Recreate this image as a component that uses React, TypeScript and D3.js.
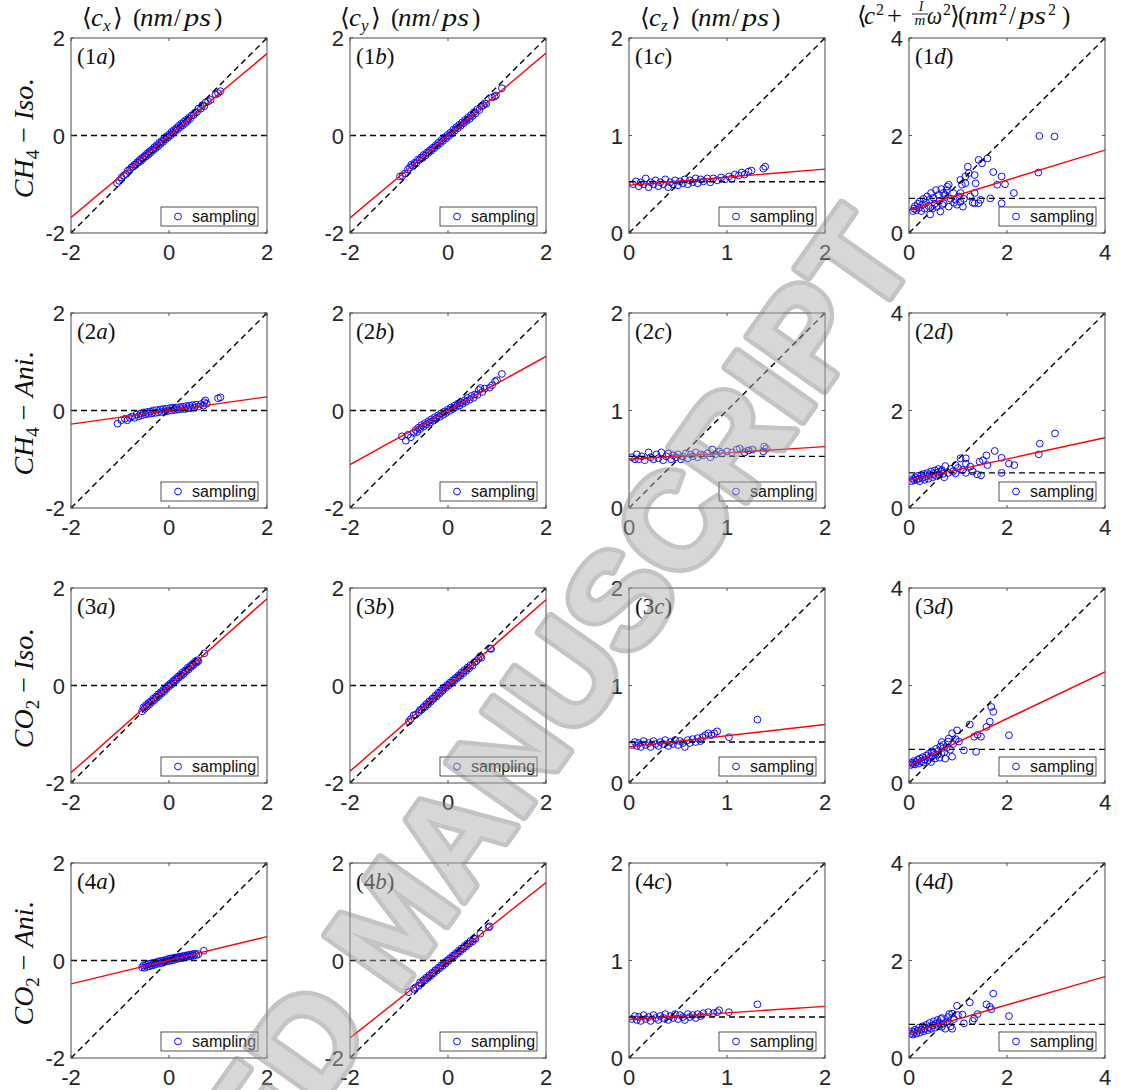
import React from "react";
import * as d3 from "d3";

// ---------------- data ----------------
const colDomains: number[][] = [[-2, 2], [-2, 2], [0, 2], [0, 4]];
const colTicks: number[][] = [[-2, 0, 2], [-2, 0, 2], [0, 1, 2], [0, 2, 4]];
const colTags = ["a", "b", "c", "d"];
const rowMolecule = ["H", "H", "O", "O"];
const rowSub = ["4", "4", "2", "2"];
const rowKind = ["Iso", "Ani", "Iso", "Ani"];
const legendLabel = "sampling";
const titleSubs = ["x", "y", "z"];

// fitted red line: y at left and right end of x-domain
const fitRow1 = [[-1.68, 1.68], [-1.69, 1.69], [0.49, 0.655], [0.47, 1.7]];
const fitRow2 = [[-0.28, 0.28], [-1.11, 1.11], [0.5, 0.63], [0.57, 1.44]];
const fitRow3 = [[-1.79, 1.78], [-1.76, 1.76], [0.37, 0.6], [0.36, 2.28]];
const fitRow4 = [[-0.48, 0.49], [-1.59, 1.6], [0.395, 0.53], [0.51, 1.67]];
// horizontal dashed (mean) level
const meanRow1 = [0, 0, 0.525, 0.71];
const meanRow2 = [0, 0, 0.53, 0.72];
const meanRow3 = [0, 0, 0.42, 0.69];
const meanRow4 = [0, 0, 0.42, 0.69];

const s1a = [[-1.06,-0.98],[-1.02,-0.93],[-0.97,-0.86],[-0.92,-0.82],[-0.88,-0.79],[-0.84,-0.72],[-0.8,-0.7],[-0.77,-0.66],[-0.74,-0.64],[-0.71,-0.6],[-0.68,-0.6],[-0.65,-0.55],[-0.62,-0.55],[-0.6,-0.5],[-0.57,-0.52],[-0.55,-0.46],[-0.52,-0.47],[-0.5,-0.42],[-0.47,-0.43],[-0.45,-0.37],[-0.42,-0.39],[-0.4,-0.33],[-0.37,-0.35],[-0.35,-0.29],[-0.32,-0.3],[-0.3,-0.24],[-0.27,-0.26],[-0.25,-0.2],[-0.22,-0.22],[-0.2,-0.15],[-0.17,-0.17],[-0.15,-0.11],[-0.12,-0.13],[-0.1,-0.06],[-0.07,-0.08],[-0.05,-0.02],[-0.02,-0.04],[0.0,0.02],[0.03,0.0],[0.05,0.07],[0.08,0.05],[0.1,0.11],[0.13,0.09],[0.15,0.15],[0.18,0.13],[0.2,0.2],[0.23,0.17],[0.25,0.24],[0.28,0.21],[0.3,0.28],[0.33,0.25],[0.35,0.32],[0.38,0.3],[0.4,0.36],[0.43,0.34],[0.46,0.41],[0.5,0.42],[0.53,0.47],[0.57,0.48],[0.6,0.55],[0.65,0.55],[0.68,0.62],[0.72,0.6],[0.75,0.68],[0.8,0.7],[0.85,0.73],[0.95,0.84],[1.0,0.87],[1.05,0.91]];
const s1b = [[-0.98,-0.84],[-0.93,-0.83],[-0.88,-0.78],[-0.82,-0.7],[-0.78,-0.66],[-0.75,-0.6],[-0.72,-0.62],[-0.68,-0.56],[-0.65,-0.57],[-0.62,-0.5],[-0.58,-0.5],[-0.55,-0.45],[-0.52,-0.46],[-0.5,-0.4],[-0.46,-0.41],[-0.43,-0.35],[-0.4,-0.36],[-0.37,-0.3],[-0.34,-0.31],[-0.31,-0.25],[-0.28,-0.26],[-0.25,-0.2],[-0.22,-0.21],[-0.19,-0.14],[-0.16,-0.16],[-0.13,-0.09],[-0.1,-0.11],[-0.07,-0.04],[-0.04,-0.06],[-0.01,0.01],[0.02,-0.01],[0.05,0.06],[0.08,0.04],[0.11,0.12],[0.14,0.1],[0.17,0.17],[0.2,0.15],[0.23,0.22],[0.26,0.2],[0.29,0.27],[0.32,0.25],[0.35,0.32],[0.38,0.3],[0.41,0.37],[0.44,0.34],[0.47,0.42],[0.5,0.4],[0.53,0.48],[0.56,0.45],[0.6,0.54],[0.64,0.52],[0.68,0.6],[0.72,0.62],[0.75,0.66],[0.78,0.65],[0.9,0.78],[0.95,0.8],[0.98,0.82],[1.1,0.97]];
const s1c = [[0.04,0.5],[0.07,0.53],[0.1,0.48],[0.12,0.52],[0.15,0.5],[0.17,0.56],[0.2,0.47],[0.22,0.52],[0.25,0.5],[0.27,0.54],[0.3,0.48],[0.32,0.52],[0.35,0.5],[0.37,0.55],[0.4,0.47],[0.42,0.52],[0.45,0.5],[0.47,0.54],[0.5,0.49],[0.52,0.53],[0.55,0.51],[0.57,0.55],[0.6,0.5],[0.62,0.54],[0.65,0.52],[0.68,0.56],[0.7,0.51],[0.73,0.55],[0.76,0.53],[0.8,0.56],[0.83,0.52],[0.86,0.56],[0.9,0.54],[0.94,0.57],[0.98,0.55],[1.02,0.58],[1.05,0.56],[1.08,0.6],[1.12,0.59],[1.15,0.62],[1.18,0.6],[1.22,0.63],[1.25,0.64],[1.37,0.66],[1.39,0.68]];
const s1d = [[0.08,0.45],[0.1,0.5],[0.12,0.55],[0.15,0.47],[0.18,0.6],[0.2,0.52],[0.22,0.65],[0.25,0.45],[0.27,0.58],[0.3,0.7],[0.32,0.5],[0.35,0.62],[0.37,0.75],[0.4,0.55],[0.42,0.68],[0.43,0.38],[0.45,0.82],[0.48,0.5],[0.5,0.72],[0.53,0.6],[0.55,0.88],[0.57,0.54],[0.6,0.78],[0.62,0.66],[0.64,0.44],[0.66,0.9],[0.68,0.58],[0.7,0.82],[0.71,0.61],[0.74,0.78],[0.77,0.88],[0.78,0.95],[0.81,0.99],[0.81,0.54],[0.85,0.7],[0.9,0.82],[0.92,0.62],[0.95,0.68],[0.98,0.58],[1.02,0.75],[1.05,1.09],[1.05,0.82],[1.05,0.64],[1.08,0.99],[1.1,0.54],[1.12,0.7],[1.15,1.16],[1.15,1.02],[1.2,1.36],[1.22,1.23],[1.25,0.75],[1.3,0.62],[1.34,1.19],[1.36,1.02],[1.34,0.82],[1.34,0.61],[1.42,0.61],[1.42,1.5],[1.46,0.68],[1.49,1.43],[1.6,1.53],[1.66,0.71],[1.72,1.25],[1.8,0.99],[1.89,1.16],[1.89,0.61],[1.96,1.0],[2.14,0.82],[2.64,1.24],[2.66,1.99],[2.97,1.98]];
const s2a = [[-1.05,-0.27],[-0.97,-0.2],[-0.9,-0.17],[-0.85,-0.2],[-0.8,-0.15],[-0.75,-0.12],[-0.7,-0.15],[-0.66,-0.08],[-0.62,-0.12],[-0.58,-0.06],[-0.55,-0.1],[-0.52,-0.04],[-0.48,-0.08],[-0.45,-0.03],[-0.42,-0.07],[-0.38,-0.02],[-0.35,-0.06],[-0.32,0.0],[-0.28,-0.05],[-0.25,0.01],[-0.22,-0.04],[-0.18,0.02],[-0.15,-0.03],[-0.12,0.03],[-0.08,-0.02],[-0.05,0.04],[-0.02,-0.01],[0.02,0.05],[0.05,0.0],[0.08,0.06],[0.12,0.01],[0.15,0.06],[0.18,0.02],[0.22,0.07],[0.25,0.03],[0.28,0.08],[0.32,0.03],[0.35,0.09],[0.38,0.04],[0.42,0.1],[0.45,0.05],[0.48,0.11],[0.52,0.06],[0.55,0.12],[0.6,0.08],[0.65,0.13],[0.7,0.1],[0.72,0.17],[0.74,0.21],[0.77,0.14],[1.0,0.25],[1.05,0.27]];
const s2b = [[-0.94,-0.53],[-0.86,-0.62],[-0.82,-0.5],[-0.76,-0.55],[-0.7,-0.46],[-0.66,-0.4],[-0.63,-0.44],[-0.6,-0.35],[-0.57,-0.38],[-0.54,-0.3],[-0.5,-0.33],[-0.47,-0.26],[-0.44,-0.29],[-0.4,-0.22],[-0.37,-0.25],[-0.34,-0.18],[-0.3,-0.21],[-0.27,-0.14],[-0.24,-0.17],[-0.2,-0.1],[-0.17,-0.13],[-0.14,-0.06],[-0.1,-0.09],[-0.07,-0.02],[-0.04,-0.05],[0.0,0.02],[0.03,-0.01],[0.06,0.06],[0.1,0.03],[0.13,0.1],[0.16,0.07],[0.2,0.14],[0.23,0.1],[0.27,0.17],[0.3,0.14],[0.34,0.21],[0.37,0.18],[0.4,0.26],[0.44,0.22],[0.48,0.3],[0.52,0.26],[0.55,0.33],[0.6,0.32],[0.63,0.42],[0.66,0.46],[0.7,0.38],[0.75,0.45],[0.85,0.47],[0.9,0.52],[0.96,0.6],[1.0,0.62],[1.1,0.75]];
const s2c = [[0.03,0.52],[0.06,0.5],[0.08,0.55],[0.1,0.5],[0.13,0.53],[0.16,0.49],[0.2,0.57],[0.22,0.52],[0.25,0.5],[0.28,0.55],[0.3,0.51],[0.33,0.57],[0.35,0.49],[0.38,0.53],[0.4,0.56],[0.43,0.5],[0.45,0.54],[0.48,0.52],[0.5,0.55],[0.53,0.5],[0.55,0.53],[0.58,0.56],[0.6,0.51],[0.63,0.55],[0.65,0.53],[0.68,0.57],[0.7,0.52],[0.73,0.55],[0.76,0.54],[0.8,0.56],[0.83,0.52],[0.85,0.6],[0.88,0.55],[0.92,0.58],[0.95,0.56],[1.0,0.58],[1.05,0.57],[1.1,0.6],[1.13,0.61],[1.18,0.57],[1.22,0.59],[1.26,0.6],[1.38,0.63],[1.4,0.61],[1.37,0.58]];
const s2d = [[0.05,0.55],[0.08,0.6],[0.1,0.57],[0.13,0.63],[0.15,0.58],[0.18,0.66],[0.2,0.6],[0.22,0.55],[0.25,0.68],[0.28,0.62],[0.3,0.7],[0.32,0.58],[0.35,0.65],[0.38,0.72],[0.4,0.6],[0.42,0.68],[0.45,0.75],[0.48,0.63],[0.5,0.7],[0.53,0.77],[0.55,0.66],[0.58,0.73],[0.6,0.8],[0.62,0.68],[0.65,0.75],[0.67,0.78],[0.7,0.7],[0.74,0.86],[0.72,0.63],[0.8,0.72],[0.85,0.8],[0.9,0.75],[0.95,0.88],[0.95,0.71],[1.0,0.82],[1.05,1.02],[1.1,0.78],[1.16,1.02],[1.16,0.91],[1.16,0.72],[1.25,0.85],[1.3,0.75],[1.39,0.69],[1.44,0.95],[1.47,0.67],[1.51,0.98],[1.58,1.08],[1.6,0.88],[1.75,1.17],[1.89,1.03],[1.89,0.72],[2.04,0.91],[2.15,0.88],[2.65,1.1],[2.67,1.32],[2.98,1.53]];
const s3a = [[-0.55,-0.53],[-0.52,-0.45],[-0.5,-0.48],[-0.47,-0.4],[-0.45,-0.43],[-0.42,-0.36],[-0.4,-0.39],[-0.37,-0.32],[-0.35,-0.34],[-0.32,-0.27],[-0.3,-0.3],[-0.27,-0.23],[-0.25,-0.25],[-0.22,-0.18],[-0.2,-0.21],[-0.17,-0.14],[-0.15,-0.16],[-0.12,-0.09],[-0.1,-0.12],[-0.07,-0.05],[-0.05,-0.07],[-0.02,0.0],[0.0,-0.02],[0.03,0.04],[0.05,0.02],[0.08,0.09],[0.1,0.07],[0.13,0.13],[0.15,0.11],[0.18,0.18],[0.2,0.16],[0.23,0.22],[0.25,0.2],[0.28,0.27],[0.3,0.24],[0.33,0.31],[0.35,0.29],[0.38,0.36],[0.4,0.33],[0.43,0.4],[0.45,0.38],[0.48,0.44],[0.5,0.42],[0.53,0.49],[0.56,0.47],[0.58,0.52],[0.6,0.5],[0.72,0.66]];
const s3b = [[-0.8,-0.74],[-0.76,-0.69],[-0.7,-0.61],[-0.66,-0.6],[-0.6,-0.55],[-0.57,-0.5],[-0.54,-0.5],[-0.5,-0.44],[-0.47,-0.44],[-0.44,-0.38],[-0.41,-0.39],[-0.38,-0.32],[-0.35,-0.33],[-0.32,-0.27],[-0.29,-0.27],[-0.26,-0.21],[-0.23,-0.22],[-0.2,-0.15],[-0.17,-0.16],[-0.14,-0.1],[-0.11,-0.11],[-0.08,-0.04],[-0.05,-0.05],[-0.02,0.01],[0.01,0.0],[0.04,0.06],[0.07,0.05],[0.1,0.11],[0.13,0.1],[0.16,0.16],[0.19,0.15],[0.22,0.21],[0.25,0.2],[0.28,0.27],[0.31,0.25],[0.34,0.32],[0.37,0.3],[0.4,0.37],[0.43,0.35],[0.46,0.42],[0.5,0.41],[0.54,0.48],[0.58,0.5],[0.62,0.55],[0.66,0.6],[0.68,0.57],[0.86,0.76],[0.88,0.75]];
const s3c = [[0.03,0.39],[0.06,0.42],[0.08,0.38],[0.1,0.41],[0.12,0.37],[0.15,0.43],[0.17,0.39],[0.2,0.41],[0.22,0.37],[0.25,0.43],[0.27,0.4],[0.3,0.38],[0.32,0.42],[0.35,0.4],[0.37,0.44],[0.4,0.38],[0.42,0.42],[0.45,0.4],[0.47,0.44],[0.5,0.39],[0.52,0.43],[0.55,0.41],[0.57,0.37],[0.6,0.44],[0.62,0.41],[0.65,0.45],[0.68,0.42],[0.7,0.46],[0.73,0.43],[0.75,0.47],[0.78,0.49],[0.81,0.51],[0.84,0.49],[0.87,0.51],[0.9,0.53],[1.02,0.47],[1.31,0.65]];
const s3d = [[0.04,0.37],[0.06,0.42],[0.08,0.39],[0.1,0.45],[0.12,0.38],[0.15,0.43],[0.18,0.48],[0.2,0.4],[0.22,0.5],[0.25,0.44],[0.28,0.53],[0.3,0.42],[0.32,0.48],[0.35,0.56],[0.38,0.46],[0.4,0.6],[0.42,0.52],[0.45,0.43],[0.46,0.65],[0.48,0.55],[0.5,0.62],[0.53,0.5],[0.55,0.7],[0.58,0.58],[0.6,0.66],[0.62,0.52],[0.64,0.75],[0.66,0.6],[0.67,0.84],[0.7,0.78],[0.72,0.63],[0.74,0.5],[0.77,0.72],[0.8,0.85],[0.81,0.91],[0.84,0.68],[0.88,1.02],[0.88,0.54],[0.9,0.8],[0.95,0.9],[0.98,1.08],[1.02,0.85],[1.12,0.67],[1.24,1.2],[1.33,0.95],[1.37,0.64],[1.4,0.99],[1.47,0.95],[1.58,1.15],[1.65,1.26],[1.68,1.56],[1.72,1.46],[2.04,0.98]];
const s4a = [[-0.55,-0.14],[-0.52,-0.1],[-0.5,-0.15],[-0.47,-0.09],[-0.45,-0.13],[-0.42,-0.07],[-0.4,-0.12],[-0.37,-0.06],[-0.35,-0.1],[-0.32,-0.05],[-0.3,-0.09],[-0.27,-0.04],[-0.25,-0.07],[-0.22,-0.02],[-0.2,-0.06],[-0.17,-0.01],[-0.15,-0.05],[-0.12,0.0],[-0.1,-0.03],[-0.07,0.01],[-0.05,-0.02],[-0.02,0.03],[0.0,-0.01],[0.03,0.04],[0.05,0.0],[0.08,0.05],[0.1,0.01],[0.13,0.06],[0.15,0.03],[0.18,0.07],[0.2,0.04],[0.23,0.08],[0.25,0.05],[0.28,0.09],[0.3,0.06],[0.33,0.1],[0.35,0.07],[0.38,0.11],[0.4,0.08],[0.43,0.12],[0.45,0.09],[0.48,0.13],[0.5,0.1],[0.53,0.14],[0.56,0.11],[0.6,0.13],[0.71,0.2]];
const s4b = [[-0.8,-0.65],[-0.7,-0.58],[-0.66,-0.55],[-0.6,-0.52],[-0.57,-0.45],[-0.54,-0.47],[-0.5,-0.4],[-0.47,-0.41],[-0.44,-0.35],[-0.41,-0.36],[-0.38,-0.3],[-0.35,-0.31],[-0.32,-0.25],[-0.29,-0.26],[-0.26,-0.2],[-0.23,-0.21],[-0.2,-0.15],[-0.17,-0.16],[-0.14,-0.1],[-0.11,-0.11],[-0.08,-0.05],[-0.05,-0.06],[-0.02,0.0],[0.01,-0.01],[0.04,0.05],[0.07,0.04],[0.1,0.1],[0.13,0.09],[0.16,0.15],[0.19,0.14],[0.22,0.2],[0.25,0.19],[0.28,0.25],[0.31,0.24],[0.34,0.3],[0.37,0.29],[0.4,0.35],[0.43,0.34],[0.46,0.4],[0.5,0.39],[0.53,0.45],[0.56,0.44],[0.66,0.55],[0.83,0.68],[0.85,0.7]];
const s4c = [[0.03,0.4],[0.06,0.43],[0.08,0.39],[0.1,0.42],[0.12,0.38],[0.15,0.44],[0.17,0.4],[0.2,0.42],[0.22,0.38],[0.25,0.44],[0.27,0.41],[0.3,0.39],[0.32,0.43],[0.35,0.41],[0.37,0.45],[0.4,0.39],[0.42,0.43],[0.45,0.41],[0.47,0.45],[0.5,0.4],[0.52,0.44],[0.55,0.42],[0.57,0.39],[0.6,0.45],[0.62,0.42],[0.65,0.44],[0.68,0.41],[0.7,0.45],[0.73,0.43],[0.76,0.46],[0.81,0.47],[0.86,0.46],[0.9,0.47],[0.92,0.49],[1.02,0.47],[1.31,0.55]];
const s4d = [[0.04,0.5],[0.06,0.55],[0.08,0.48],[0.1,0.53],[0.12,0.58],[0.15,0.5],[0.18,0.56],[0.2,0.62],[0.22,0.52],[0.25,0.58],[0.28,0.65],[0.3,0.55],[0.32,0.6],[0.35,0.68],[0.38,0.57],[0.4,0.63],[0.42,0.72],[0.45,0.6],[0.48,0.67],[0.5,0.75],[0.53,0.62],[0.55,0.7],[0.58,0.78],[0.6,0.65],[0.62,0.72],[0.65,0.8],[0.67,0.64],[0.67,0.82],[0.7,0.7],[0.74,0.6],[0.78,0.75],[0.8,0.84],[0.82,0.9],[0.85,0.65],[0.88,0.91],[0.88,0.6],[0.92,0.8],[0.98,1.07],[1.0,0.88],[1.09,0.89],[1.12,0.71],[1.24,1.14],[1.3,0.76],[1.33,0.81],[1.4,0.9],[1.58,1.1],[1.65,1.05],[1.68,1.0],[1.72,1.32],[2.04,0.86]];

const samples = [[s1a, s1b, s1c, s1d], [s2a, s2b, s2c, s2d], [s3a, s3b, s3c, s3d], [s4a, s4b, s4c, s4d]];
const fits = [fitRow1, fitRow2, fitRow3, fitRow4];
const means = [meanRow1, meanRow2, meanRow3, meanRow4];

// ---------------- layout ----------------
const colX = [71, 350, 629, 909];
const rowY = [38, 313, 588, 863];
const W = 196;
const H = 195;
const AX = "#262626";
const SERIF = "'Liberation Serif', 'Times New Roman', serif";
const SANS = "'Liberation Sans', Arial, Helvetica, sans-serif";

function Panel({ r, c }: { r: number; c: number }) {
  const x0 = colX[c];
  const y0 = rowY[r];
  const dom = colDomains[c];
  const xs = d3.scaleLinear().domain(dom).range([x0, x0 + W]);
  const ys = d3.scaleLinear().domain(dom).range([y0 + H, y0]);
  const line = d3.line<number[]>().x((d) => xs(d[0])).y((d) => ys(d[1]));
  const clipId = `clip-${r}-${c}`;
  const fit = fits[r][c];
  const mean = means[r][c];
  const ticks = colTicks[c];
  const lx = x0 + W - 106;
  const ly = y0 + H - 26;
  return (
    <g>
      <defs>
        <clipPath id={clipId}>
          <rect x={x0} y={y0} width={W} height={H} />
        </clipPath>
      </defs>
      <rect x={x0} y={y0} width={W} height={H} fill="#fff" />
      <g clipPath={`url(#${clipId})`}>
        {samples[r][c].map((d, i) => (
          <circle key={i} cx={xs(d[0])} cy={ys(d[1])} r={3.4} fill="none" stroke="#0000ff" strokeWidth={0.95} />
        ))}
        <path d={line([[dom[0], dom[0]], [dom[1], dom[1]]]) || ""} stroke="#000" strokeWidth={1.4} strokeDasharray="6,4" fill="none" />
        <path d={line([[dom[0], mean], [dom[1], mean]]) || ""} stroke="#000" strokeWidth={1.4} strokeDasharray="6,4" fill="none" />
        <path d={line([[dom[0], fit[0]], [dom[1], fit[1]]]) || ""} stroke="#ff0000" strokeWidth={1.4} fill="none" />
      </g>
      {ticks.map((t, i) => (
        <g key={i}>
          <line x1={xs(t)} x2={xs(t)} y1={y0 + H} y2={y0 + H - 3} stroke={AX} strokeWidth={0.8} />
          <line x1={xs(t)} x2={xs(t)} y1={y0} y2={y0 + 3} stroke={AX} strokeWidth={0.8} />
          <line x1={x0} x2={x0 + 3} y1={ys(t)} y2={ys(t)} stroke={AX} strokeWidth={0.8} />
          <line x1={x0 + W} x2={x0 + W - 3} y1={ys(t)} y2={ys(t)} stroke={AX} strokeWidth={0.8} />
          <text x={xs(t)} y={y0 + H + 27} textAnchor="middle" fontFamily={SANS} fontSize={22} fill={AX}>{t}</text>
          <text x={x0 - 6} y={ys(t) + 8} textAnchor="end" fontFamily={SANS} fontSize={22} fill={AX}>{t}</text>
        </g>
      ))}
      <rect x={x0} y={y0} width={W} height={H} fill="none" stroke="#4a4a4a" strokeWidth={1} />
      <text x={x0 + 6} y={y0 + 26} fontFamily={SERIF} fontSize={23} fill="#111">
        ({r + 1}<tspan fontStyle="italic">{colTags[c]}</tspan>)
      </text>
      <rect x={lx} y={ly} width={97} height={19} fill="#fff" stroke={AX} strokeWidth={0.8} />
      <circle cx={lx + 17} cy={ly + 9.5} r={3.4} fill="none" stroke="#0000ff" strokeWidth={0.95} />
      <text x={lx + 31} y={ly + 15} fontFamily={SANS} fontSize={16} fill="#111">{legendLabel}</text>
    </g>
  );
}

type Piece = { t: string; x: number; w?: number; it?: boolean; sub?: boolean; sup?: boolean };

function renderPieces(parts: Piece[], base: number, y: number, fs: number, sfs: number) {
  return parts.map((p, i) => (
    <text
      key={i}
      x={base + p.x}
      y={p.sub ? y + 5 : p.sup ? y - 9 : y}
      fontSize={p.sub || p.sup ? sfs : fs}
      fontStyle={p.it ? "italic" : "normal"}
      textLength={p.w}
      lengthAdjust={p.w ? "spacingAndGlyphs" : undefined}
    >
      {p.t}
    </text>
  ));
}

function ColTitle({ c }: { c: number }) {
  const base = [82, 340, 640][c];
  const parts: Piece[] = [
    { t: "\u27E8", x: 0 },
    { t: "c", x: 9, w: 12, it: true },
    { t: titleSubs[c], x: 21, it: true, sub: true },
    { t: "\u27E9", x: 31 },
    { t: "(", x: 51 },
    { t: "nm", x: 58, w: 33, it: true },
    { t: "/", x: 92 },
    { t: "ps", x: 102, w: 27, it: true },
    { t: ")", x: 132 },
  ];
  return (
    <g fill="#111" fontFamily={SERIF}>
      {renderPieces(parts, base, 26, 25, 17)}
    </g>
  );
}

function EnergyTitle() {
  const parts: Piece[] = [
    { t: "\u27E8", x: 857 },
    { t: "c", x: 864, w: 11, it: true },
    { t: "2", x: 876, sup: true },
    { t: "+", x: 887, w: 15 },
    { t: "\u03C9", x: 927, w: 15, it: true },
    { t: "2", x: 943, sup: true },
    { t: "\u27E9", x: 950 },
    { t: "(", x: 958 },
    { t: "nm", x: 965, w: 33, it: true },
    { t: "2", x: 999, sup: true },
    { t: "/", x: 1009 },
    { t: "ps", x: 1019, w: 27, it: true },
    { t: "2", x: 1048, sup: true },
    { t: ")", x: 1062 },
  ];
  return (
    <g fill="#111" fontFamily={SERIF}>
      {renderPieces(parts, 0, 24, 25, 16)}
      <text x={921} y={11} fontSize={14} fontStyle="italic" textAnchor="middle">I</text>
      <line x1={912} x2={928} y1={14} y2={14} stroke="#111" strokeWidth={0.9} />
      <text x={920} y={25} fontSize={15} fontStyle="italic" textAnchor="middle">m</text>
    </g>
  );
}

function RowLabel({ r }: { r: number }) {
  const cy = rowY[r] + H / 2 + 3;
  return (
    <text transform={`translate(33,${cy}) rotate(-90)`} textAnchor="middle" fontFamily={SERIF} fontSize={28} fill="#111">
      <tspan fontStyle="italic">C{rowMolecule[r]}</tspan>
      <tspan fontSize={19} dy={6}>{rowSub[r]}</tspan>
      <tspan dy={-6}> {"\u2212"} </tspan>
      <tspan fontStyle="italic">{rowKind[r]}</tspan>
      <tspan>.</tspan>
    </text>
  );
}

function Watermark() {
  return (
    <g transform="translate(855,262) rotate(-54.8)" opacity={0.5}>
      <text x={42} y={49} textAnchor="end" fontFamily={SANS} fontWeight="bold" fontSize={136}
        fill="#b0b0b0" stroke="#8a8a8a" strokeWidth={9} strokeLinejoin="round" paintOrder="stroke">
        ACCEPTED MANUSCRIPT
      </text>
    </g>
  );
}

export default function App() {
  const rows = [0, 1, 2, 3];
  const cols = [0, 1, 2, 3];
  return (
    <svg width={1135} height={1090} style={{ position: "absolute", left: 0, top: 0, background: "#fff" }}>
      <rect width={1135} height={1090} fill="#fff" />
      {rows.map((r) => cols.map((c) => <Panel key={`${r}-${c}`} r={r} c={c} />))}
      {[0, 1, 2].map((c) => <ColTitle key={c} c={c} />)}
      <EnergyTitle />
      {rows.map((r) => <RowLabel key={r} r={r} />)}
      <Watermark />
    </svg>
  );
}
